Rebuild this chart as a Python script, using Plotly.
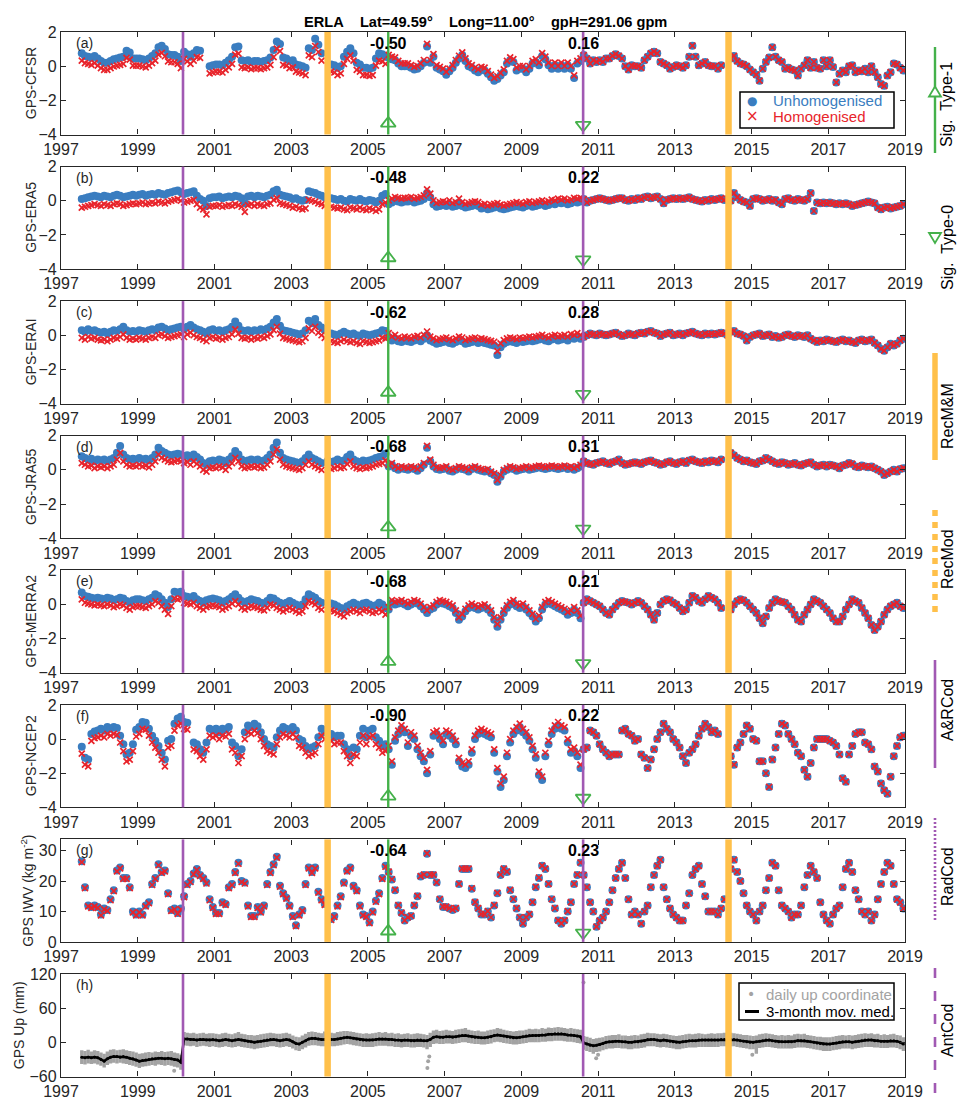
import plotly.graph_objects as go

# ---------------------------------------------------------------------------
# Monthly series, July 1997 .. December 2018 (one row per calendar year)
# ---------------------------------------------------------------------------
FIRST_YEAR, FIRST_MONTH, N_MONTHS = 1997, 7, 258

gps_cfsr = [
    0.75, 0.6, 0.55, 0.5, 0.6, 0.45,
    0.3, 0.2, 0.2, 0.3, 0.4, 0.45, 0.5, 0.55, 0.9, 0.8, 0.45, 0.45,
    0.45, 0.4, 0.35, 0.45, 0.6, 0.75, 1.1, 1.2, 1.0, 0.7, 0.65, 0.65,
    0.55, 0.3, 0.85, 0.7, 0.55, 0.75, 0.95, 0.9, None, None, 0.0, 0.05,
    0.1, 0.1, 0.05, 0.2, 0.35, 0.55, 1.1, 1.15, 0.35, 0.3, 0.35, 0.25,
    0.3, 0.3, 0.25, 0.3, 0.35, 0.5, 0.95, 1.45, 1.3, 0.5, 0.45, 0.3,
    0.35, 0.1, 0.05, 0.0, -0.1, 1.05, 0.95, 1.6, 1.25, 0.75, None, None,
    0.1, 0.05, -0.1, 0.0, 0.55, 0.85, 1.05, 0.75, 0.2, 0.1, -0.1, -0.1,
    -0.15, -0.1, 0.45, 0.75, 0.7, 0.55, 0.5, 0.4, 0.35, 0.15, 0.0, 0.0,
    0.0, -0.1, -0.2, -0.15, 0.0, 0.2, 1.15, 0.2, 0.55, -0.1, -0.2, -0.3,
    -0.5, -0.3, -0.1, 0.2, 0.45, 0.65, 0.3, 0.0, -0.1, -0.25, -0.35, -0.2,
    -0.25, -0.45, -0.65, -0.85, -0.75, -0.55, -0.35, 0.15, 0.35, 0.25, -0.25, -0.15,
    -0.15, -0.35, -0.15, 0.15, 0.25, 0.05, 0.6, 0.4, 0.05, -0.15, 0.05, -0.15,
    0.05, -0.15, 0.05, -0.15, -0.7, 0.15, 0.3, 0.65, 0.45, 0.15, 0.35, 0.25,
    0.35, 0.25, 0.45, 0.45, 0.6, 0.7, 0.6, 0.45, 0.0, -0.2, 0.05, 0.0,
    0.0, -0.1, 0.35, 0.55, 0.75, 0.85, 0.75, 0.25, 0.15, 0.05, -0.15, -0.05,
    0.05, 0.0, -0.1, 0.05, 0.55, 1.2, 0.55, 0.05, 0.15, 0.25, 0.05, 0.0,
    0.0, -0.15, 0.05, None, None, 0.45, 0.6, 0.3, 0.15, 0.1, 0.0, -0.2,
    -0.35, -0.5, -0.85, -0.15, 0.25, 0.5, 1.1, 0.55, 0.35, 0.25, -0.15, -0.1,
    -0.2, -0.25, -0.55, -0.15, 0.05, 0.35, -0.1, 0.25, -0.1, -0.15, 0.35, 0.0,
    0.35, -0.05, -0.95, -0.45, -0.25, -0.35, 0.0, 0.05, -0.35, -0.25, -0.3, -0.15,
    -0.35, 0.0, -0.35, -0.65, -1.05, -1.15, -0.55, -0.35, 0.15, 0.1, -0.1, -0.25,
]

gps_era5 = [
    0.1, 0.15, 0.2, 0.25, 0.3, 0.25,
    0.2, 0.3, 0.25, 0.2, 0.3, 0.35, 0.3, 0.2, 0.25, 0.3, 0.35, 0.3,
    0.35, 0.4, 0.3, 0.35, 0.4, 0.35, 0.45, 0.4, 0.35, 0.45, 0.5, 0.55,
    0.6, 0.5, 0.4, 0.45, 0.5, 0.55, 0.3, 0.1, 0.0, -0.3, 0.15, 0.2,
    0.2, 0.25, 0.15, 0.2, 0.25, 0.2, 0.3, 0.25, 0.15, -0.15, 0.25, 0.3,
    0.2, 0.3, 0.25, 0.2, 0.3, 0.35, 0.55, 0.65, 0.35, 0.3, 0.25, 0.2,
    0.1, 0.15, 0.05, 0.0, 0.05, 0.55, 0.5, 0.45, 0.35, 0.3, 0.2, None,
    0.15, 0.1, 0.05, 0.1, 0.0, -0.05, 0.1, 0.05, 0.0, 0.1, 0.0, -0.05,
    0.05, 0.0, -0.1, 0.0, 0.3, 0.4, -0.2, -0.1, 0.0, -0.05, -0.1, -0.05,
    -0.05, 0.0, -0.1, -0.05, 0.0, 0.1, 0.45, 0.2, -0.2, -0.35, -0.3, -0.25,
    -0.3, -0.2, -0.35, -0.3, -0.1, -0.3, -0.4, -0.35, -0.3, -0.25, -0.3, -0.45,
    -0.4, -0.5, -0.45, -0.4, -0.35, -0.45, -0.5, -0.45, -0.4, -0.35, -0.3, -0.35,
    -0.4, -0.3, -0.25, -0.35, -0.3, -0.25, -0.2, -0.3, -0.25, -0.15, -0.2, -0.1,
    -0.15, -0.1, -0.2, -0.15, -0.05, -0.1, -0.05, 0.1, -0.1, 0.0, 0.05, 0.1,
    0.15, 0.1, 0.05, 0.0, 0.05, 0.1, 0.15, 0.15, 0.05, 0.0, 0.1, 0.05,
    0.15, 0.1, 0.2, 0.25, 0.15, 0.2, 0.25, 0.1, -0.15, 0.05, 0.1, 0.15,
    0.1, 0.15, 0.1, 0.15, 0.2, 0.1, 0.05, 0.0, -0.05, 0.05, 0.0, 0.1,
    0.05, 0.1, 0.15, 0.05, 0.1, 0.0, 0.45, 0.2, 0.05, -0.05, -0.1, -0.3,
    0.1, 0.15, 0.1, 0.0, 0.05, 0.1, 0.0, 0.05, -0.1, -0.2, 0.1, 0.15,
    0.05, 0.0, 0.1, 0.05, 0.0, 0.1, 0.45, -0.6, -0.1, -0.15, -0.1, -0.15,
    -0.1, -0.15, -0.2, -0.15, -0.2, -0.15, -0.2, -0.3, -0.25, -0.2, -0.15, -0.1,
    -0.05, -0.1, -0.15, -0.4, -0.5, -0.4, -0.35, -0.45, -0.4, -0.35, -0.3, -0.2,
]

gps_erai = [
    0.3, 0.2, 0.35, 0.25, 0.3, 0.2,
    0.15, 0.2, 0.1, 0.2, 0.3, 0.25, 0.35, 0.5, 0.3, 0.2, 0.25, 0.2,
    0.3, 0.25, 0.2, 0.3, 0.35, 0.3, 0.45, 0.5, 0.4, 0.3, 0.35, 0.4,
    0.45, 0.5, 0.35, 0.5, 0.6, 0.45, 0.35, 0.3, 0.2, 0.1, 0.3, 0.35,
    0.25, 0.3, 0.2, 0.3, 0.35, 0.5, 0.8, 0.55, 0.3, 0.25, 0.3, 0.2,
    0.3, 0.25, 0.35, 0.3, 0.4, 0.5, 0.75, 0.95, 0.55, 0.3, 0.25, 0.2,
    0.15, 0.1, 0.05, 0.1, 0.3, 0.85, 0.7, 0.95, 0.6, 0.45, 0.3, None,
    0.1, 0.05, 0.0, 0.1, 0.2, 0.1, 0.05, 0.1, 0.0, -0.05, 0.1, 0.05,
    0.0, 0.05, 0.1, 0.15, 0.3, 0.25, -0.1, -0.3, -0.2, -0.35, -0.4, -0.3,
    -0.35, -0.4, -0.3, -0.25, -0.35, -0.2, 0.0, -0.3, -0.4, -0.5, -0.45, -0.4,
    -0.35, -0.45, -0.5, -0.4, -0.3, -0.35, -0.5, -0.45, -0.4, -0.35, -0.45, -0.4,
    -0.45, -0.5, -0.55, -0.6, -1.15, -0.7, -0.5, -0.4, -0.35, -0.4, -0.45, -0.35,
    -0.4, -0.35, -0.3, -0.35, -0.3, -0.25, -0.2, -0.3, -0.35, -0.25, -0.2, -0.3,
    -0.25, -0.2, -0.3, -0.15, -0.2, -0.1, -0.2, -0.1, 0.0, 0.1, 0.05, 0.0,
    0.1, 0.05, 0.0, 0.05, 0.1, 0.15, 0.05, -0.05, 0.0, 0.1, 0.05, 0.0,
    0.1, 0.15, 0.1, 0.2, 0.25, 0.15, 0.1, -0.05, 0.05, 0.1, 0.15, 0.0,
    0.05, 0.1, 0.0, 0.1, 0.15, 0.2, 0.1, 0.05, 0.0, 0.1, 0.05, 0.1,
    0.05, 0.1, 0.15, 0.1, 0.0, 0.2, 0.25, 0.1, 0.05, -0.05, -0.3, -0.1,
    0.0, 0.05, 0.1, -0.05, 0.0, 0.05, -0.1, -0.05, -0.15, -0.1, 0.0, 0.05,
    -0.05, -0.1, 0.0, -0.05, -0.1, 0.0, -0.2, -0.3, -0.4, -0.3, -0.35, -0.25,
    -0.3, -0.35, -0.4, -0.3, -0.25, -0.35, -0.3, -0.4, -0.45, -0.3, -0.25, -0.35,
    -0.3, -0.25, -0.45, -0.6, -0.8, -0.9, -0.7, -0.5, -0.6, -0.5, -0.3, -0.2,
]

gps_jra55 = [
    0.8, 0.7, 0.6, 0.65, 0.5, 0.6,
    0.55, 0.6, 0.5, 0.6, 0.7, 1.0, 1.4, 0.9, 0.7, 0.6, 0.65, 0.6,
    0.7, 0.6, 0.65, 0.55, 0.7, 0.9, 1.3, 1.1, 1.0, 0.9, 0.85, 0.9,
    0.95, 0.9, 0.8, 0.85, 0.7, 0.9, 0.75, 0.6, 0.4, 0.3, 0.5, 0.55,
    0.5, 0.6, 0.55, 0.4, 0.6, 0.8, 1.1, 0.9, 0.6, 0.5, 0.55, 0.6,
    0.55, 0.6, 0.5, 0.55, 0.7, 0.9, 1.3, 1.6, 1.0, 0.7, 0.6, 0.55,
    0.5, 0.45, 0.4, 0.5, 0.7, 0.9, 0.7, 0.6, 0.5, 0.4, None, 0.55,
    0.45, 0.5, 0.6, 0.5, 0.55, 0.75, 0.9, 0.6, 0.5, 0.45, 0.55, 0.5,
    0.55, 0.6, 0.7, 0.75, 0.8, 0.95, 0.2, 0.3, 0.1, 0.0, 0.1, 0.05,
    0.0, 0.1, 0.05, -0.05, 0.1, 0.3, 1.3, 0.5, 0.2, 0.05, 0.0, 0.05,
    0.1, -0.05, -0.1, 0.0, 0.1, 0.05, 0.0, -0.1, 0.05, 0.1, 0.0, -0.05,
    -0.1, -0.05, -0.2, -0.3, -0.7, -0.4, -0.1, 0.0, 0.1, 0.05, -0.05, 0.0,
    0.05, 0.1, 0.0, 0.05, 0.1, 0.15, 0.1, 0.05, 0.1, 0.15, 0.1, 0.05,
    0.1, 0.15, 0.05, 0.1, 0.0, 0.1, 0.2, 0.5, 0.4, 0.35, 0.3, 0.4,
    0.45, 0.5, 0.4, 0.35, 0.45, 0.5, 0.6, 0.4, 0.3, 0.35, 0.4, 0.45,
    0.4, 0.35, 0.45, 0.5, 0.55, 0.45, 0.4, 0.3, 0.35, 0.45, 0.5, 0.4,
    0.35, 0.45, 0.5, 0.4, 0.55, 0.6, 0.5, 0.45, 0.4, 0.5, 0.45, 0.55,
    0.5, 0.45, 0.6, None, None, 1.0, 0.85, 0.7, 0.6, 0.5, 0.55, 0.45,
    0.4, 0.35, 0.5, 0.55, 0.7, 0.6, 0.5, 0.4, 0.35, 0.45, 0.4, 0.3,
    0.35, 0.4, 0.3, 0.25, 0.35, 0.4, 0.45, 0.3, 0.2, 0.25, 0.3, 0.2,
    0.3, 0.25, 0.2, 0.1, 0.25, 0.3, 0.4, 0.35, 0.2, 0.15, 0.25, 0.2,
    0.15, 0.2, 0.1, 0.0, -0.1, -0.3, -0.2, -0.1, 0.0, -0.1, 0.05, 0.1,
]

gps_merra2 = [
    0.7, 0.5, 0.45, 0.4, 0.35, 0.4,
    0.35, 0.3, 0.4, 0.35, 0.25, 0.3, 0.4, 0.35, 0.2, 0.1, 0.25, 0.3,
    0.3, 0.25, 0.2, 0.3, 0.4, 0.6, 0.5, 0.3, 0.1, -0.15, 0.3, 0.75,
    0.7, 0.75, 0.5, 0.45, 0.4, 0.5, 0.3, 0.2, 0.1, 0.25, 0.3, 0.35,
    0.3, 0.25, 0.1, 0.2, 0.3, 0.45, 0.6, 0.4, 0.2, 0.1, 0.2, 0.3,
    0.25, 0.2, 0.1, 0.05, 0.2, 0.4, 0.35, 0.2, 0.1, 0.0, 0.1, 0.2,
    0.1, 0.0, -0.1, 0.0, 0.3, 0.6, 0.5, 0.4, 0.2, 0.1, None, 0.1,
    0.05, 0.0, -0.1, -0.2, -0.3, -0.1, 0.0, 0.1, 0.0, -0.1, 0.05, 0.1,
    0.0, -0.1, -0.05, 0.1, 0.0, -0.2, -0.3, 0.1, 0.0, 0.05, 0.1, 0.0,
    -0.1, 0.0, 0.1, 0.05, -0.1, -0.3, -0.5, -0.3, -0.2, 0.0, 0.1, 0.05,
    0.0, -0.1, -0.2, -0.5, -0.9, -0.7, -0.4, -0.2, -0.1, -0.2, -0.3, -0.2,
    -0.15, -0.3, -0.5, -0.9, -1.3, -0.9, -0.5, -0.2, 0.0, 0.1, -0.1, -0.2,
    -0.1, -0.3, -0.5, -0.7, -1.0, -0.8, -0.3, 0.0, 0.1, 0.0, -0.1, -0.2,
    -0.3, -0.4, -0.6, -0.5, -0.3, -0.5, -0.8, 0.1, 0.3, 0.2, 0.1, 0.0,
    -0.1, -0.3, -0.5, -0.6, -0.3, -0.1, 0.1, 0.2, 0.15, 0.1, 0.0, 0.1,
    0.2, 0.1, -0.1, -0.3, -0.6, -0.9, -0.5, 0.0, 0.2, 0.3, 0.25, 0.1,
    0.0, -0.2, -0.4, -0.3, 0.1, 0.5, 0.4, 0.2, 0.1, 0.3, 0.5, 0.4,
    0.3, 0.1, -0.2, None, None, -0.3, 0.0, 0.2, 0.3, 0.25, 0.1, -0.1,
    -0.3, -0.5, -0.8, -1.1, -0.7, -0.2, 0.1, 0.3, 0.2, 0.15, 0.1, -0.1,
    -0.3, -0.6, -0.9, -1.0, -0.6, -0.3, 0.0, 0.3, 0.2, 0.1, -0.1, -0.3,
    -0.5, -0.8, -1.0, -1.0, -0.7, -0.3, 0.0, 0.3, 0.2, 0.1, -0.2, -0.5,
    -0.8, -1.2, -1.5, -1.3, -1.0, -0.6, -0.3, -0.1, 0.0, 0.1, -0.1, -0.2,
]

gps_ncep2 = [
    -0.45, -1.1, -1.2, 0.3, 0.45, 0.5,
    0.6, 0.5, 0.7, 0.6, 0.7, 0.65, 0.2, -0.3, -0.9, -0.8, -0.3, 0.55,
    0.7, 1.0, 0.95, 0.6, 0.2, -0.1, -0.4, -0.8, -1.2, -0.1, 0.0, 0.9,
    1.2, 1.3, 1.0, 0.95, None, -0.2, -0.3, -0.6, -0.8, -0.2, 0.6, 0.5,
    0.6, 0.4, 0.6, 0.55, 0.7, -0.2, -0.4, -1.0, -0.6, 0.4, 0.8, 0.7,
    0.9, 0.75, 0.4, 0.0, -0.3, -0.4, -0.5, 0.1, 0.5, 0.7, 0.6, 0.5,
    0.7, 0.5, 0.0, -0.1, -0.4, -0.6, -0.5, -0.4, 0.1, 0.6, 0.4, None,
    0.3, 0.1, 0.2, 0.2, -0.3, -0.6, -1.0, -0.5, -0.6, 0.2, 0.6, 0.1,
    0.5, 0.6, 0.1, -0.1, -0.4, -0.3, -0.6, -1.5, -0.1, 0.3, 0.6, 0.4,
    -0.4, 0.2, 0.0, -0.6, -1.0, -1.3, -2.0, -0.9, 0.2, 0.3, 0.0, -0.3,
    0.3, 0.2, 0.0, -0.3, -1.3, -1.6, -1.7, -1.5, -0.8, 0.0, 0.3, 0.4,
    0.3, 0.2, 0.1, -0.8, -1.9, -2.8, -2.4, -1.0, -0.2, 0.3, 0.5, 0.7,
    0.4, 0.2, -0.1, -0.6, -1.1, -2.1, -2.4, -1.0, -0.3, 0.3, 0.6, 0.8,
    0.6, 0.5, -0.2, -0.8, -0.7, -1.0, -1.7, -0.6, -0.5, 0.5, 0.4, 0.2,
    -0.3, -0.6, -0.8, -1.0, -0.9, -0.9, -0.9, 0.5, 0.6, 0.3, 0.2, -0.1,
    0.0, -0.9, -1.1, -1.7, -1.2, -0.6, 0.0, 0.4, 0.9, 0.6, 0.4, 0.0,
    -0.2, -0.5, -1.0, -1.4, -0.8, -0.6, -0.3, 0.2, 0.6, 0.9, 0.7, 0.4,
    0.5, 0.3, None, None, None, -1.0, -1.5, -0.5, -0.2, 0.3, 0.8, 0.6,
    0.0, -0.1, -1.3, -1.3, -2.0, -2.8, -1.2, -0.5, 0.3, 0.9, 0.8, 0.3,
    0.0, -0.3, -0.8, -1.0, -1.8, -2.2, -1.4, -0.5, 0.0, 0.0, 0.0, 0.0,
    -0.1, -0.2, -0.4, -0.9, -2.3, -2.5, -0.9, -0.4, 0.3, 0.4, 0.4, -0.2,
    -0.3, -0.6, -1.6, -1.9, -2.6, -3.0, -3.2, -2.2, -1.0, -0.4, 0.1, 0.2,
]

gps_iwv = [
    26.5, 18, 12, 11.5, 12, 11.5,
    9, 11, 10.5, 14, 17, 23.5, 24.5, 21, 21, 18, 10, 9,
    10, 9, 12, 13, 19, 21, 25.5, 23, 23.5, 16, 10.5, 11,
    9.5, 11, 15, 19, 20, 22.5, 24, 22, 21, 19.5, 14, 11.5,
    9.5, 9.5, 13, 12.5, 18, 19, 23, 26, 20, 19.5, 12, 8.5,
    8.5, 11.5, 10, 12, 19, 23, 25.5, 28, 18.5, 16, 14.5, 12,
    8.5, 5.5, 9, 10.5, 19, 24.5, 23, 24.5, 16.5, 14, 12.5, None,
    7.5, 8.5, 12, 15, 19.5, 23.5, 24.5, 18.5, 17, 12, 9, 8.5,
    6.5, 10, 13.5, 16, 21, 25, 23, 20.5, 17, 12, 9.5, 7,
    8, 8.5, 12, 15, 21.5, 22, 29, 22, 22, 19.5, 14, 11.5,
    11.5, 11, 10.5, 11, 19, 24, 24, 24, 17.5, 13, 11, 9,
    9, 10, 8, 12, 16, 22, 24, 23, 17, 14, 11, 8,
    6, 8, 9, 13, 18, 21, 25, 24, 19, 14, 11, 7,
    6, 7, 10, 13, 19, 22, 26, 22, 18, 13, 10, 5,
    7, 8, 10, 13, 17, 21, 24, 26, 21, 14, 9, 10,
    9, 6, 10, 12, 18, 22, 25, 27, 18, 14, 11, 9,
    8, 7, 7, 12, 16, 22, 24, 25, 19, 15, 10, 10,
    10, 9, 11, 14, None, 24, 27, 23, 20, 16, 12, 10,
    9, 7, 10, 12, 17, 21, 26, 25, 17, 12, 11, 10,
    8, 9, 9, 12, 18, 22, 25, 23, 21, 13, 9, 7,
    6, 9, 11, 12, 18, 24, 26, 23, 17, 14, 10, 9,
    10, 7, 9, 14, 19, 23, 26, 25, 19, 14, 13, 11,
]

# GPS up coordinate (mm): 3-month moving median and monthly spread of daily values
up_median = [
    -26, -27, -26, -27, -26, -27,
    -30, -33, -29, -26, -25, -25, -26, -25, -26, -28, -29, -31,
    -33, -32, -31, -30, -29, -29, -28, -28, -29, -28, -29, -30,
    -31, -35, 6, 6, 5, 5, 4, 5, 5, 4, 4, 5,
    4, 3, 4, 5, 4, 3, 4, 5, 4, 3, 2, 1,
    0, 1, 2, 3, 4, 5, 5, 4, 3, 4, 5, 4,
    1, -2, -3, 0, 3, 6, 7, 7, 6, 5, 5, 4,
    5, 5, 6, 7, 8, 9, 8, 7, 6, 5, 4, 4,
    4, 4, 5, 6, 6, 6, 5, 5, 4, 4, 3, 4,
    4, 3, 3, 4, 4, 3, 3, 5, 9, 10, 9, 9,
    10, 10, 9, 10, 11, 12, 12, 11, 10, 9, 9, 8,
    8, 9, 10, 12, 13, 12, 11, 10, 9, 8, 8, 9,
    10, 11, 12, 12, 12, 12, 13, 13, 14, 14, 15, 15,
    15, 14, 13, 13, 12, 11, 10, -1, -3, -5, -6, -5,
    -4, -2, 0, 1, 1, 2, 2, 1, 1, 0, 0, 1,
    1, 2, 3, 5, 5, 5, 4, 3, 4, 3, 2, 1,
    0, 0, 1, 2, 3, 3, 3, 4, 4, 4, 4, 4,
    4, 4, 5, 5, 5, 5, 5, 4, 3, 2, 1, 0,
    0, 1, 2, 3, 4, 4, 3, 2, 1, 1, 1, 1,
    1, 2, 3, 3, 3, 2, 1, 0, -1, -2, -3, -3,
    -3, -2, -1, 0, 1, 1, 1, 0, 1, 2, 3, 4,
    4, 4, 3, 3, 2, 2, 2, 3, 3, 2, 0, -3,
]

up_daily_high = [
    -14, -15, -13, -16, -14, -15,
    -18, -20, -16, -13, -12, -14, -13, -12, -14, -15, -16, -18,
    -20, -19, -18, -17, -18, -16, -17, -15, -17, -16, -15, -18,
    -19, -22, 18, 17, 16, 17, 15, 16, 17, 15, 16, 16,
    15, 14, 16, 17, 15, 14, 16, 18, 15, 14, 13, 13,
    12, 13, 14, 15, 16, 17, 16, 15, 15, 16, 17, 15,
    12, 10, 9, 12, 15, 18, 19, 18, 17, 16, 19, 16,
    17, 16, 18, 19, 20, 20, 19, 18, 17, 16, 15, 16,
    15, 16, 17, 18, 17, 18, 16, 17, 15, 16, 14, 15,
    16, 14, 15, 16, 15, 14, 13, 17, 21, 22, 20, 21,
    22, 21, 20, 22, 23, 24, 25, 22, 21, 20, 21, 19,
    19, 21, 22, 23, 25, 24, 22, 21, 20, 19, 20, 21,
    21, 22, 24, 23, 24, 23, 25, 24, 26, 25, 26, 27,
    26, 25, 24, 25, 24, 23, 22, 11, 10, 8, 6, 7,
    8, 9, 11, 12, 13, 13, 14, 12, 12, 11, 12, 13,
    12, 14, 15, 17, 16, 16, 15, 14, 15, 14, 13, 12,
    11, 12, 13, 14, 15, 14, 15, 16, 15, 14, 15, 16,
    15, 16, 16, 17, 16, 17, 16, 15, 14, 13, 13, 12,
    11, 12, 14, 15, 16, 15, 14, 13, 12, 13, 12, 13,
    12, 14, 15, 14, 15, 13, 12, 11, 10, 10, 9, 9,
    9, 10, 11, 12, 13, 12, 13, 12, 13, 14, 15, 16,
    15, 16, 14, 15, 13, 14, 13, 14, 15, 13, 12, 9,
]

up_daily_low = [
    -38, -39, -37, -38, -37, -39,
    -41, -44, -40, -37, -36, -37, -36, -37, -38, -40, -41, -43,
    -45, -43, -42, -41, -40, -41, -39, -40, -41, -40, -41, -43,
    -44, -48, -5, -6, -7, -6, -8, -7, -6, -7, -8, -7,
    -8, -9, -8, -7, -8, -9, -8, -7, -8, -9, -10, -11,
    -12, -11, -10, -9, -8, -7, -7, -8, -9, -8, -7, -8,
    -11, -14, -15, -12, -9, -6, -5, -5, -6, -7, -7, -8,
    -7, -7, -6, -5, -4, -3, -4, -5, -6, -7, -8, -8,
    -8, -8, -7, -6, -6, -6, -7, -7, -8, -8, -9, -8,
    -8, -9, -9, -8, -8, -9, -12, -8, -3, -2, -3, -3,
    -2, -2, -3, -2, -1, 0, 0, -1, -2, -3, -3, -4,
    -4, -3, -2, 0, 1, 0, -1, -2, -3, -4, -4, -3,
    -2, -1, 0, 0, 0, 0, 1, 1, 2, 2, 3, 3,
    3, 2, 1, 1, 0, -1, -2, -13, -15, -17, -20, -17,
    -16, -14, -12, -11, -11, -10, -10, -11, -11, -12, -12, -11,
    -11, -10, -9, -7, -7, -7, -8, -9, -8, -9, -10, -11,
    -12, -12, -11, -10, -9, -9, -9, -8, -8, -8, -8, -8,
    -8, -8, -7, -7, -7, -7, -7, -8, -9, -10, -11, -12,
    -12, -20, -10, -9, -8, -8, -9, -10, -11, -11, -11, -11,
    -11, -10, -9, -9, -9, -10, -11, -12, -13, -14, -15, -15,
    -15, -14, -13, -12, -11, -11, -11, -12, -11, -10, -9, -8,
    -8, -8, -9, -9, -10, -10, -10, -9, -9, -10, -12, -15,
]

# isolated daily values outside the monthly spread
up_outlier_time = [1999.95, 2006.55, 2006.57, 2006.60, 2010.62, 2010.95, 2011.00, 2015.02]
up_outlier_value = [-50, -45, -33, -25, 105, -28, -22, -22]

# Break epochs (decimal years)
BREAK_SIG = 2005.53                  # significant break, green
BREAK_A_RCOD = [2000.18, 2010.61]    # antenna & receiver changes, purple
BREAK_RECMM = [2003.95, 2014.40]     # receiver changes, orange

# Panel texts, break amplitudes and per-segment corrections
panel_names = ["GPS-CFSR", "GPS-ERA5", "GPS-ERAI", "GPS-JRA55", "GPS-MERRA2", "GPS-NCEP2",
               "GPS IWV (kg m<sup>-2</sup>)", "GPS Up (mm)"]
panel_letters = ["(a)", "(b)", "(c)", "(d)", "(e)", "(f)", "(g)", "(h)"]
break_amp_sig = ["-0.50", "-0.48", "-0.62", "-0.68", "-0.68", "-0.90", "-0.64"]
break_amp_second = ["0.16", "0.22", "0.28", "0.31", "0.21", "0.22", "0.23"]
seg1_correction = [-0.42, -0.50, -0.45, -0.40, -0.40, -0.40, -0.30]
seg2_correction = [0.16, 0.22, 0.22, 0.10, 0.15, 0.20, 0.10]

series = [gps_cfsr, gps_era5, gps_erai, gps_jra55, gps_merra2, gps_ncep2, gps_iwv]
for s in series + [up_median, up_daily_high, up_daily_low]:
    assert len(s) == N_MONTHS, len(s)

months = [FIRST_YEAR + (FIRST_MONTH - 1 + i + 0.5) / 12.0 for i in range(N_MONTHS)]


def homogenised(values, c1, c2):
    out = []
    for tt, v in zip(months, values):
        if v is None:
            out.append(None)
        elif tt < BREAK_SIG:
            out.append(v + c1)
        elif tt < BREAK_A_RCOD[1]:
            out.append(v + c2)
        else:
            out.append(v)
    return out


# ---------------------------------------------------------------------------
# Layout geometry (pixels)
# ---------------------------------------------------------------------------
W, H = 957, 1099
X_LEFT, X_RIGHT = 61, 905
PANEL_TOPS = [32, 166.6, 301.1, 435.7, 570.3, 704.9, 839.4, 974]
PANEL_H = 102.5
YTITLE_X = [31, 31, 31, 31, 31, 31, 27, 19]

BLUE = "#3A7DC0"
RED = "#E8242B"
GREEN = "#44B14A"
PURPLE = "#A159B3"
ORANGE = "#FFC04A"
GREY = "#A3A3A3"
INK = "#262626"
FONT = "Liberation Sans, Arial, sans-serif"


def px(xp):
    return xp / W


def py(yp):
    return 1 - yp / H


fig = go.Figure()
shapes, annotations = [], []
layout_axes = {}

y_ranges = [[-4, 2]] * 6 + [[0, 33.7], [-60, 120]]
y_ticks = [[-4, -2, 0, 2]] * 6 + [[0, 10, 20, 30], [-60, 0, 60, 120]]
tri_up_y = [-3.35] * 6 + [3.5]
tri_down_y = [-3.45] * 6 + [3.0]

for k in range(8):
    n = k + 1
    xa = "x" if n == 1 else f"x{n}"
    ya = "y" if n == 1 else f"y{n}"
    top = PANEL_TOPS[k]
    layout_axes["xaxis" if n == 1 else f"xaxis{n}"] = dict(
        domain=[X_LEFT / W, X_RIGHT / W], anchor=ya, range=[1997, 2019],
        tickvals=list(range(1997, 2020, 2)), ticks="inside", ticklen=5, tickwidth=1,
        tickcolor=INK, mirror="ticks", showline=True, linecolor=INK, linewidth=1.3,
        showgrid=False, zeroline=False, automargin=False,
        tickfont=dict(family=FONT, size=16, color=INK),
    )
    layout_axes["yaxis" if n == 1 else f"yaxis{n}"] = dict(
        domain=[1 - (top + PANEL_H) / H, 1 - top / H], anchor=xa, range=y_ranges[k],
        tickvals=y_ticks[k], ticks="inside", ticklen=5, tickwidth=1, tickcolor=INK,
        mirror="ticks", showline=True, linecolor=INK, linewidth=1.3,
        showgrid=False, zeroline=False, automargin=False,
        tickfont=dict(family=FONT, size=16, color=INK),
    )
    # y-axis title
    annotations.append(dict(
        x=px(YTITLE_X[k]), y=py(top + PANEL_H / 2), xref="paper", yref="paper",
        text=panel_names[k], textangle=-90, showarrow=False, xanchor="center", yanchor="middle",
        font=dict(family=FONT, size=14, color=INK)))

    if k < 7:
        raw = series[k]
        hom = homogenised(raw, seg1_correction[k], seg2_correction[k])
        fig.add_trace(go.Scatter(
            x=months, y=raw, mode="markers", xaxis=xa, yaxis=ya,
            marker=dict(symbol="circle", size=8, color=BLUE),
            name="Unhomogenised", showlegend=False))
        fig.add_trace(go.Scatter(
            x=months, y=hom, mode="markers", xaxis=xa, yaxis=ya,
            marker=dict(symbol="x-thin", size=6, color=RED, line=dict(width=1.7, color=RED)),
            name="Homogenised", showlegend=False))
        # break markers
        fig.add_trace(go.Scatter(
            x=[BREAK_SIG], y=[tri_up_y[k]], mode="markers", xaxis=xa, yaxis=ya,
            marker=dict(symbol="triangle-up-open", size=13, color=GREEN, line=dict(width=1.8, color=GREEN)),
            showlegend=False, hoverinfo="skip"))
        fig.add_trace(go.Scatter(
            x=[BREAK_A_RCOD[1]], y=[tri_down_y[k]], mode="markers", xaxis=xa, yaxis=ya,
            marker=dict(symbol="triangle-down-open", size=13, color=GREEN, line=dict(width=1.8, color=GREEN)),
            showlegend=False, hoverinfo="skip"))
        annotations.append(dict(
            x=BREAK_SIG, xref=xa, y=1 - 11 / PANEL_H, yref=f"{ya} domain",
            text=f"<b>{break_amp_sig[k]}</b>", showarrow=False, xanchor="center", yanchor="middle",
            font=dict(family=FONT, size=16, color="black")))
        annotations.append(dict(
            x=BREAK_A_RCOD[1], xref=xa, y=1 - 11 / PANEL_H, yref=f"{ya} domain",
            text=f"<b>{break_amp_second[k]}</b>", showarrow=False, xanchor="center", yanchor="middle",
            font=dict(family=FONT, size=16, color="black")))
    else:
        # monthly spread of the daily up coordinate, drawn as vertical strokes
        sx, sy = [], []
        for tt, lo, hi in zip(months, up_daily_low, up_daily_high):
            sx += [tt, tt, None]
            sy += [lo, hi, None]
        fig.add_trace(go.Scatter(
            x=sx, y=sy, mode="lines", xaxis=xa, yaxis=ya,
            line=dict(color=GREY, width=3.4), showlegend=False, hoverinfo="skip"))
        fig.add_trace(go.Scatter(
            x=up_outlier_time, y=up_outlier_value, mode="markers", xaxis=xa, yaxis=ya,
            marker=dict(symbol="circle", size=4, color=GREY), showlegend=False))
        fig.add_trace(go.Scatter(
            x=months, y=up_median, mode="lines+markers", xaxis=xa, yaxis=ya,
            line=dict(color="black", width=2.5), marker=dict(size=3, color="black"),
            showlegend=False))

    # vertical break lines
    for xb in BREAK_A_RCOD:
        shapes.append(dict(type="line", xref=xa, yref=f"{ya} domain", x0=xb, x1=xb, y0=0, y1=1,
                           line=dict(color=PURPLE, width=2.6), layer="above"))
    for xb in BREAK_RECMM:
        shapes.append(dict(type="line", xref=xa, yref=f"{ya} domain", x0=xb, x1=xb, y0=0, y1=1,
                           line=dict(color=ORANGE, width=6.5), layer="above"))
    if k < 7:
        shapes.append(dict(type="line", xref=xa, yref=f"{ya} domain", x0=BREAK_SIG, x1=BREAK_SIG,
                           y0=0, y1=1, line=dict(color=GREEN, width=2.4), layer="above"))

    annotations.append(dict(
        x=13 / (X_RIGHT - X_LEFT), xref=f"{xa} domain", y=1 - 11 / PANEL_H, yref=f"{ya} domain",
        text=panel_letters[k], showarrow=False, xanchor="left", yanchor="middle",
        font=dict(family=FONT, size=14, color=INK)))


# station header
annotations.append(dict(
    x=px(485.5), y=py(21.5), xref="paper", yref="paper", showarrow=False,
    text="<b>ERLA\u00a0\u00a0\u00a0\u00a0Lat=49.59\u00b0\u00a0\u00a0\u00a0\u00a0Long=11.00\u00b0"
         "\u00a0\u00a0\u00a0\u00a0gpH=291.06 gpm</b>",
    font=dict(family=FONT, size=14.6, color="black"), xanchor="center", yanchor="middle"))

# legend boxes (panels a and h)
shapes.append(dict(type="rect", xref="paper", yref="paper", x0=px(740), x1=px(894),
                   y0=py(92), y1=py(128), line=dict(color="black", width=1.5),
                   fillcolor="white", layer="above"))
shapes.append(dict(type="rect", xref="paper", yref="paper", x0=px(739), x1=px(894),
                   y0=py(983), y1=py(1020), line=dict(color="black", width=1.5),
                   fillcolor="white", layer="above"))
shapes.append(dict(type="line", xref="paper", yref="paper", x0=px(745), x1=px(759),
                   y0=py(1011.5), y1=py(1011.5), line=dict(color="black", width=3), layer="above"))

legend_entries = [
    ("\u25cf", 752, 101, BLUE, 12), ("\u00d7", 752, 116, RED, 15),
    ("\u2022", 751, 994, GREY, 14),
]
for glyph, xg, yg, col, fs in legend_entries:
    annotations.append(dict(x=px(xg), y=py(yg), xref="paper", yref="paper", text=glyph,
                            showarrow=False, xanchor="center", yanchor="middle",
                            font=dict(family="DejaVu Sans", size=fs, color=col)))
legend_texts = [
    ("Unhomogenised", 771, 101, BLUE), ("Homogenised", 771, 116, RED),
    ("daily up coordinate", 764, 994, GREY), ("3-month mov. med.", 764, 1011.5, "black"),
]
for txt, xt, yt, col in legend_texts:
    annotations.append(dict(x=px(xt), y=py(yt), xref="paper", yref="paper", text=txt,
                            showarrow=False, xanchor="left", yanchor="middle",
                            font=dict(family=FONT, size=15, color=col)))

# key of break types in the right margin
KEY_X = 935
key_lines = [
    (47, 153, GREEN, 2.4, "solid"),
    (353, 460, ORANGE, 5.5, "solid"),
    (510, 618, ORANGE, 5.5, "6px,6px"),
    (660, 768, PURPLE, 2.6, "solid"),
    (818, 922, PURPLE, 2.6, "2px,2px"),
    (968, 1099, PURPLE, 2.6, "10px,13px"),
]
for y0, y1, col, wd, dash in key_lines:
    shapes.append(dict(type="line", xref="paper", yref="paper", x0=px(KEY_X), x1=px(KEY_X),
                       y0=py(y0), y1=py(y1), line=dict(color=col, width=wd, dash=dash)))


def tri_path(cx, cy, up):
    hw, hh = 6, 5
    if up:
        pts = [(cx - hw, cy + hh), (cx + hw, cy + hh), (cx, cy - hh)]
    else:
        pts = [(cx - hw, cy - hh), (cx + hw, cy - hh), (cx, cy + hh)]
    return "M " + " L ".join(f"{px(a):.5f},{py(b):.5f}" for a, b in pts) + " Z"


shapes.append(dict(type="path", xref="paper", yref="paper", path=tri_path(KEY_X, 91.5, True),
                   line=dict(color=GREEN, width=1.8), fillcolor="white"))
shapes.append(dict(type="path", xref="paper", yref="paper", path=tri_path(KEY_X, 238, False),
                   line=dict(color=GREEN, width=1.8)))

key_labels = [("Sig.  Type-1", 105), ("Sig.  Type-0", 248), ("RecM&M", 416), ("RecMod", 559),
              ("A&RCod", 710), ("RadCod", 877), ("AntCod", 1031)]
for txt, yc in key_labels:
    annotations.append(dict(x=px(947), y=py(yc), xref="paper", yref="paper", text=txt,
                            textangle=-90, showarrow=False, xanchor="center", yanchor="middle",
                            font=dict(family=FONT, size=16, color="black")))

fig.update_layout(
    width=W, height=H, margin=dict(l=0, r=0, t=0, b=0),
    paper_bgcolor="white", plot_bgcolor="white", showlegend=False,
    shapes=shapes, annotations=annotations,
    **layout_axes,
)

fig.write_html("out.html")
